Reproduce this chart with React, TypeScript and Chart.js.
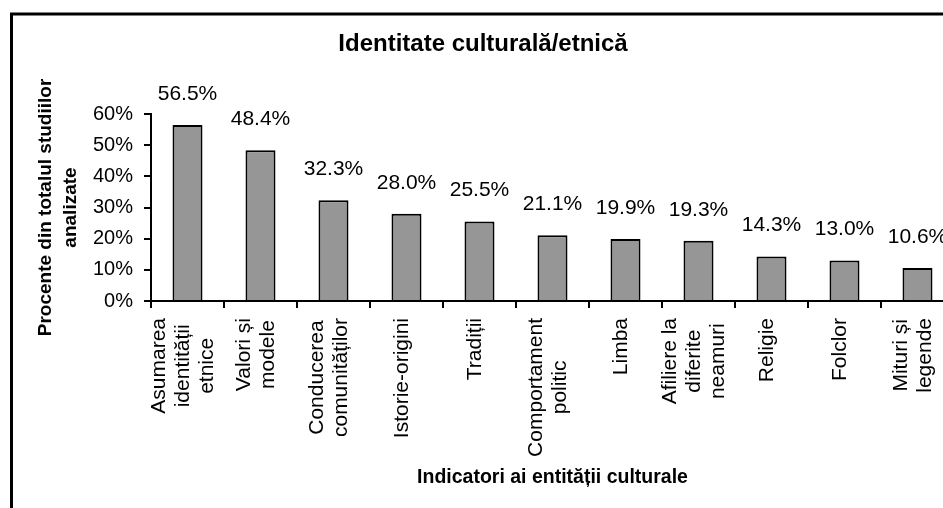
import React, { useEffect, useRef } from 'react';
import { Chart, registerables } from 'chart.js';

Chart.register(...registerables);

const categories: string[][] = [
  ['Asumarea', 'identității', 'etnice'],
  ['Valori și', 'modele'],
  ['Conducerea', 'comunităților'],
  ['Istorie-origini'],
  ['Tradiții'],
  ['Comportament', 'politic'],
  ['Limba'],
  ['Afiliere la', 'diferite', 'neamuri'],
  ['Religie'],
  ['Folclor'],
  ['Mituri și', 'legende'],
];
const values: number[] = [56.5, 48.4, 32.3, 28.0, 25.5, 21.1, 19.9, 19.3, 14.3, 13.0, 10.6];
const yMin = 0;
const yMax = 60;
const yStep = 10;
const chartTitle = 'Identitate culturală/etnică';
const yTitle = ['Procente din totalul studiilor', 'analizate'];
const xTitle = 'Indicatori ai entității culturale';

const FONT = '"Liberation Sans", Arial, Helvetica, sans-serif';
const W = 1000;
const H = 540;

const framePlugin = {
  id: 'frame',
  afterDraw(chart: any) {
    const c = chart.ctx;
    c.save();
    c.strokeStyle = '#000';
    c.lineWidth = 3;
    c.strokeRect(11.5, 14, 3000, 3000);
    c.restore();
  },
};

const valueLabelPlugin = {
  id: 'valueLabels',
  afterDatasetsDraw(chart: any) {
    const c = chart.ctx;
    const meta = chart.getDatasetMeta(0);
    c.save();
    c.font = `21px ${FONT}`;
    c.fillStyle = '#000';
    c.textAlign = 'center';
    c.textBaseline = 'middle';
    meta.data.forEach((bar: any, i: number) => {
      c.fillText(values[i].toFixed(1) + '%', bar.x, bar.y - 31);
    });
    c.restore();
  },
};

const xLabelPlugin = {
  id: 'xLabels',
  afterDraw(chart: any) {
    const c = chart.ctx;
    const xs = chart.scales.x;
    const lh = 24;
    c.save();
    c.font = `21px ${FONT}`;
    c.fillStyle = '#000';
    c.textAlign = 'center';
    c.textBaseline = 'middle';
    categories.forEach((lines, i) => {
      const cx = xs.getPixelForValue(i) - 4;
      const maxW = Math.max(...lines.map((l) => c.measureText(l).width));
      const top = xs.top + 17;
      lines.forEach((line, j) => {
        c.save();
        c.translate(cx + (j - (lines.length - 1) / 2) * lh, top + maxW / 2);
        c.rotate(-Math.PI / 2);
        c.fillText(line, 0, 0);
        c.restore();
      });
    });
    c.restore();
  },
};

export default function App() {
  const ref = useRef<HTMLCanvasElement | null>(null);

  useEffect(() => {
    if (!ref.current) return;
    const chart = new Chart(ref.current, {
      type: 'bar',
      data: {
        labels: categories.map((l) => l.join(' ')),
        datasets: [
          {
            data: values,
            backgroundColor: '#969696',
            borderColor: '#000',
            borderWidth: 2,
            barPercentage: 30 / 73,
            categoryPercentage: 1,
          },
        ],
      },
      options: {
        responsive: false,
        animation: false,
        events: [],
        layout: { padding: { left: 12, right: W - 954, top: 0, bottom: 39 } },
        plugins: {
          legend: { display: false },
          tooltip: { enabled: false },
          title: {
            display: true,
            text: chartTitle,
            color: '#000',
            font: { family: FONT, size: 24, weight: 'bold', lineHeight: 1.2 },
            padding: { top: 29.6, bottom: 55.6 },
          },
        },
        scales: {
          x: {
            offset: true,
            grid: {
              offset: true,
              drawOnChartArea: false,
              drawTicks: true,
              tickLength: 7,
              color: '#000',
              lineWidth: 2,
            },
            border: { display: true, color: '#000', width: 2 },
            ticks: { display: false },
            title: {
              display: true,
              text: xTitle,
              color: '#000',
              font: { family: FONT, size: 19.5, weight: 'bold', lineHeight: 1.2 },
              padding: { top: 0, bottom: 11.3 },
            },
            afterFit(scale: any) {
              scale.height = 200;
            },
          },
          y: {
            min: yMin,
            max: yMax,
            grid: {
              drawOnChartArea: false,
              drawTicks: true,
              tickLength: 7,
              color: '#000',
              lineWidth: 2,
            },
            border: { display: true, color: '#000', width: 2 },
            ticks: {
              stepSize: yStep,
              padding: 11,
              color: '#000',
              font: { family: FONT, size: 20 },
              callback: (v: any) => `${v}%`,
            },
            title: {
              display: true,
              text: yTitle,
              color: '#000',
              font: { family: FONT, size: 19, weight: 'bold', lineHeight: 25 / 19 },
              padding: { top: 21.5, bottom: 0 },
            },
            afterFit(scale: any) {
              scale.width = 139;
            },
          },
        },
      },
      plugins: [framePlugin, valueLabelPlugin, xLabelPlugin],
    } as any);
    return () => chart.destroy();
  }, []);

  return (
    <div
      style={{
        position: 'fixed',
        left: 0,
        top: 0,
        width: 943,
        height: 508,
        overflow: 'hidden',
        background: '#fff',
      }}
    >
      <canvas ref={ref} width={W} height={H} style={{ width: W, height: H, display: 'block' }} />
    </div>
  );
}
